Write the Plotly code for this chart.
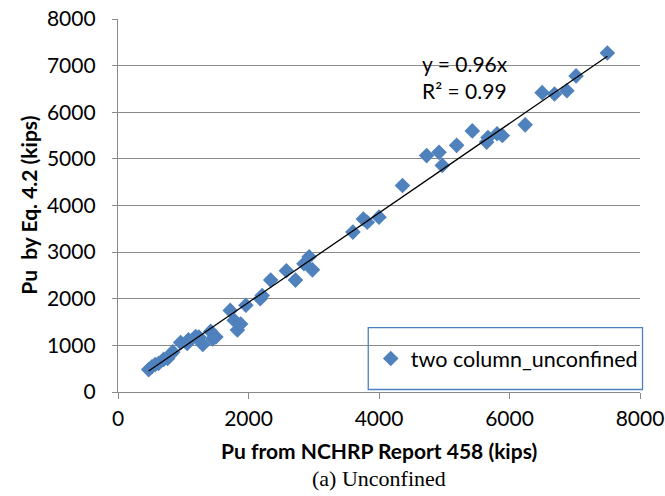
import plotly.graph_objects as go

# Ultimate capacity Pu (kips): NCHRP Report 458 vs. Eq. 4.2, two-column bents, unconfined
pu_nchrp = [470, 520, 570, 620, 700, 760, 810, 840, 960, 1060, 1080, 1190, 1240, 1300,
            1420, 1450, 1500, 1720, 1780, 1830, 1880, 1960, 2180, 2210, 2340, 2580, 2720,
            2850, 2930, 2980, 3600, 3760, 3820, 4000, 4360, 4730, 4920, 4970, 5190, 5430,
            5650, 5670, 5810, 5890, 6240, 6500, 6690, 6880, 7020, 7500]
pu_eq42 = [480, 540, 590, 610, 700, 720, 810, 860, 1060, 1040, 1120, 1190, 1180, 1020,
           1300, 1140, 1180, 1750, 1540, 1330, 1460, 1860, 2000, 2070, 2400, 2600, 2400,
           2750, 2900, 2620, 3430, 3710, 3640, 3750, 4430, 5070, 5140, 4860, 5290, 5600,
           5360, 5460, 5540, 5500, 5730, 6420, 6390, 6460, 6780, 7270]

slope = 0.96
r_squared = 0.99
axis_ticks = [0, 1000, 2000, 3000, 4000, 5000, 6000, 7000, 8000]
x_ticks = [0, 2000, 4000, 6000, 8000]

FONT = "Lato"
GRID = "#8a8a8a"
BLUE = "#4F81BD"

fig = go.Figure()

fig.add_trace(go.Scatter(
    x=pu_nchrp, y=pu_eq42, mode="markers", name="two column_unconfined",
    marker=dict(symbol="diamond", size=12, color=BLUE, line=dict(width=0)),
))

# Linear trendline through the origin, spanning the data range
x_lo, x_hi = min(pu_nchrp), max(pu_nchrp)
fig.add_trace(go.Scatter(
    x=[x_lo, x_hi], y=[slope * x_lo, slope * x_hi], mode="lines",
    line=dict(color="black", width=1.3), showlegend=False, hoverinfo="skip",
))

fig.update_layout(
    width=665, height=496,
    margin=dict(l=117.5, r=25, t=18.5, b=103.5),
    paper_bgcolor="white", plot_bgcolor="white",
    font=dict(family=FONT, color="black"),
    showlegend=True,
    legend=dict(
        x=0.4842, y=0.0896, xanchor="left", yanchor="middle",
        bgcolor="rgba(0,0,0,0)", borderwidth=0,
        font=dict(family=FONT, size=21.5, color="black"),
        itemwidth=30,
    ),
)

fig.update_xaxes(
    range=[0, 8000], tickvals=x_ticks, showgrid=False, zeroline=False, automargin=False,
    showline=True, linecolor=GRID, linewidth=1.3,
    ticks="outside", ticklen=6, tickcolor=GRID, tickwidth=1.3,
    tickfont=dict(family=FONT, size=21, color="black"),
    ticklabelstandoff=2,
)
fig.update_yaxes(
    range=[0, 8000], tickvals=axis_ticks, showgrid=True, gridcolor=GRID, gridwidth=1.3,
    zeroline=False, showline=True, linecolor=GRID, linewidth=1.3, automargin=False,
    ticks="outside", ticklen=5, tickcolor=GRID, tickwidth=1.3,
    tickfont=dict(family=FONT, size=21, color="black"),
    ticklabelstandoff=12,
)

# Legend frame
fig.add_shape(type="rect", xref="paper", yref="paper",
              x0=0.4794, x1=1.0048, y0=0.0067, y1=0.1725,
              line=dict(color=BLUE, width=1.3), fillcolor="rgba(0,0,0,0)")

annotations = [
    dict(text=f"y = {slope:.2f}x<br>R² = {r_squared:.2f}", x=0.5785, y=0.8436,
         xanchor="left", yanchor="middle", align="left", font=dict(family=FONT, size=21)),
    dict(text="<b>Pu from NCHRP Report 458 (kips)</b>", x=0.5, y=-0.1564,
         xanchor="center", yanchor="middle", font=dict(family=FONT, size=21)),
    dict(text="(a) Unconfined", x=0.5, y=-0.2313, xanchor="center", yanchor="middle",
         font=dict(family="Liberation Serif", size=22)),
    dict(text="<b>Pu  by Eq. 4.2 (kips)</b>", x=-0.173, y=0.501, xanchor="center",
         yanchor="middle", textangle=-90, font=dict(family=FONT, size=21)),
]
for a in annotations:
    fig.add_annotation(xref="paper", yref="paper", showarrow=False, **a)

fig.write_html("out.html")
